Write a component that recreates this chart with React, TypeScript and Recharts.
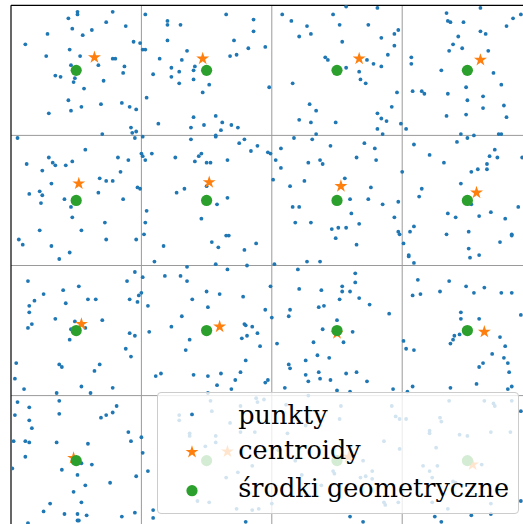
import { ScatterChart, Scatter, XAxis, YAxis, ReferenceLine, Legend } from "recharts";

type Pt = [number, number];

// points, grid cell units (x right, y down)
const pointsRow1: Pt[] = [
  [0.51, 0.05], [0.51, 0.07], [0.78, 0.05], [0.44, 0.10], [0.73, 0.13], [0.47, 0.18], [0.88, 0.16], [0.62, 0.19], [0.55, 0.23], [0.28, 0.22],
  [0.11, 0.30], [0.94, 0.28], [0.99, 0.29], [0.45, 0.34], [0.27, 0.39], [0.53, 0.39], [0.78, 0.41], [0.80, 0.41], [0.46, 0.46], [0.67, 0.46],
  [0.87, 0.47], [0.34, 0.54], [0.38, 0.55], [0.49, 0.56], [0.48, 0.59], [0.86, 0.52], [0.71, 0.58], [0.56, 0.64], [0.44, 0.73], [0.69, 0.76],
  [0.85, 0.75], [0.91, 0.78], [0.96, 0.80], [0.54, 0.78], [0.46, 0.81], [0.29, 0.83], [0.92, 0.94], [0.93, 0.98], [0.96, 0.97], [0.70, 0.99],
  [1.03, 0.07], [1.20, 0.12], [1.20, 0.15], [1.30, 0.15], [1.65, 0.07], [1.86, 0.11], [1.86, 0.20], [1.20, 0.27], [1.71, 0.27], [1.82, 0.33],
  [1.01, 0.34], [1.03, 0.34], [1.35, 0.35], [1.68, 0.39], [1.73, 0.38], [1.14, 0.41], [1.31, 0.42], [1.23, 0.48], [1.41, 0.47], [1.40, 0.50],
  [1.29, 0.51], [1.09, 0.53], [1.23, 0.55], [1.40, 0.57], [1.29, 0.60], [1.52, 0.61], [1.47, 0.67], [1.04, 0.71], [1.40, 0.86], [1.57, 0.85],
  [1.62, 0.90], [1.69, 0.92], [1.74, 0.94], [1.13, 0.91], [1.38, 0.94], [1.48, 0.92], [1.61, 0.96], [1.57, 1.00], [1.95, 0.32], [1.98, 0.63],
  [2.08, 0.07], [2.15, 0.12], [2.27, 0.16], [2.21, 0.24], [2.30, 0.22], [2.47, 0.07], [2.52, 0.15], [2.57, 0.01], [2.81, 0.02], [2.74, 0.15],
  [2.54, 0.28], [2.84, 0.25], [2.94, 0.22], [2.97, 0.19], [2.94, 0.31], [2.89, 0.38], [2.41, 0.40], [2.43, 0.42], [2.73, 0.42], [2.78, 0.45],
  [2.84, 0.47], [2.57, 0.48], [2.67, 0.51], [2.68, 0.57], [2.72, 0.60], [2.16, 0.60], [2.96, 0.67], [2.29, 0.76], [2.34, 0.81], [2.92, 0.78],
  [2.81, 0.83], [2.84, 0.87], [2.88, 0.89], [2.21, 0.88], [2.30, 0.90], [2.49, 0.90], [2.81, 0.95], [2.85, 0.99], [2.34, 0.99], [2.99, 0.91],
  [3.03, 0.95], [3.07, 0.40], [3.07, 0.45], [3.34, 0.06], [3.35, 0.12], [3.37, 0.13], [3.47, 0.13], [3.60, 0.02], [3.80, 0.16], [3.85, 0.10],
  [3.91, 0.07], [3.43, 0.24], [3.39, 0.30], [3.36, 0.35], [3.46, 0.33], [3.60, 0.20], [3.64, 0.22], [3.66, 0.35], [3.30, 0.50], [3.70, 0.52],
  [3.08, 0.66], [3.15, 0.66], [3.17, 0.68], [3.35, 0.68], [3.49, 0.63], [3.50, 0.73], [3.62, 0.70], [3.76, 0.61], [3.78, 0.77], [3.62, 0.79],
  [3.34, 0.85], [3.49, 0.84], [3.80, 0.86], [3.45, 0.99], [3.55, 1.00], [3.74, 0.99], [3.76, 0.99],
];

const pointsRow2: Pt[] = [
  [0.05, 1.02], [0.95, 1.02], [0.57, 1.11], [0.29, 1.17], [0.32, 1.21], [0.34, 1.23], [0.12, 1.22], [0.24, 1.27], [0.42, 1.23], [0.47, 1.20],
  [0.82, 1.17], [0.90, 1.19], [0.84, 1.28], [0.68, 1.33], [0.73, 1.35], [0.78, 1.35], [0.31, 1.37], [0.14, 1.45], [0.22, 1.43], [0.24, 1.46],
  [0.23, 1.52], [0.41, 1.49], [0.46, 1.55], [0.67, 1.44], [0.86, 1.49], [0.97, 1.40], [0.99, 1.41], [0.47, 1.63], [0.72, 1.67], [0.22, 1.73],
  [0.54, 1.73], [0.06, 1.80], [0.09, 1.84], [0.31, 1.85], [0.73, 1.80], [0.96, 1.80], [0.45, 1.90], [0.37, 1.95],
  [1.01, 1.01], [1.00, 1.14], [1.01, 1.16], [1.03, 1.19], [1.08, 1.14], [1.26, 1.17], [1.38, 1.03], [1.57, 1.01], [1.41, 1.20], [1.44, 1.16],
  [1.46, 1.14], [1.50, 1.21], [1.53, 1.21], [1.66, 1.19], [1.75, 1.06], [1.79, 1.03], [1.89, 1.08], [1.84, 1.12], [1.33, 1.41], [1.27, 1.44],
  [1.50, 1.39], [1.58, 1.53], [1.66, 1.48], [1.04, 1.58], [1.03, 1.67], [1.02, 1.76], [1.46, 1.64], [1.17, 1.85], [1.54, 1.82], [1.59, 1.86],
  [1.65, 1.77], [1.67, 1.77], [1.79, 1.88], [1.88, 1.83], [1.10, 1.97], [1.35, 2.01], [1.57, 1.99], [1.81, 2.00], [1.97, 1.13], [1.99, 1.14],
  [2.01, 1.34], [2.03, 1.19], [2.07, 1.10], [2.07, 1.25], [2.17, 1.02], [2.31, 1.03], [2.45, 1.08], [2.71, 1.06], [2.79, 1.10], [2.80, 1.19],
  [2.65, 1.17], [2.28, 1.21], [2.37, 1.19], [2.39, 1.22], [2.25, 1.35], [2.14, 1.39], [2.56, 1.33], [2.76, 1.40], [2.60, 1.49], [2.74, 1.49],
  [2.85, 1.53], [2.97, 1.51], [2.16, 1.55], [2.21, 1.55], [2.61, 1.60], [2.94, 1.63], [2.18, 1.67], [2.30, 1.67], [2.67, 1.68], [2.46, 1.72],
  [2.51, 1.71], [2.57, 1.71], [2.49, 1.79], [2.65, 1.84], [2.97, 1.74], [2.98, 1.76], [2.02, 1.99], [2.27, 1.97], [2.37, 1.97],
  [3.00, 1.28], [3.01, 1.83], [3.05, 1.92], [3.05, 1.93], [3.09, 1.98], [3.09, 1.07], [3.21, 1.15], [3.32, 1.21], [3.42, 1.05], [3.50, 1.02],
  [3.71, 1.11], [3.67, 1.16], [3.73, 1.17], [3.65, 1.22], [3.65, 1.26], [3.58, 1.26], [3.53, 1.28], [3.92, 1.17], [3.45, 1.37], [3.15, 1.41],
  [3.13, 1.47], [3.53, 1.53], [3.35, 1.60], [3.41, 1.63], [3.59, 1.62], [3.68, 1.59], [3.79, 1.64], [3.89, 1.55], [3.06, 1.74], [3.09, 1.70],
  [3.34, 1.76], [3.51, 1.74], [3.75, 1.82], [3.84, 1.76], [3.84, 1.77], [3.51, 1.87], [3.52, 1.94], [3.59, 1.92],
];

const pointsRow3: Pt[] = [
  [0.13, 2.12], [0.40, 2.19], [0.52, 2.16], [0.25, 2.22], [0.18, 2.27], [0.14, 2.31], [0.14, 2.36], [0.42, 2.29], [0.59, 2.26], [0.65, 2.26],
  [0.89, 2.12], [0.95, 2.05], [0.91, 2.26], [0.97, 2.28], [0.98, 2.23], [1.00, 2.21], [0.34, 2.41], [0.16, 2.45], [0.13, 2.48], [0.49, 2.43],
  [0.57, 2.48], [0.46, 2.49], [0.45, 2.57], [0.70, 2.42], [0.91, 2.52], [0.95, 2.54], [0.88, 2.64], [0.92, 2.70], [0.04, 2.75], [0.37, 2.76],
  [0.39, 2.78], [0.68, 2.76], [0.64, 2.81], [0.03, 2.87], [0.10, 2.95], [0.35, 2.98], [0.54, 2.93], [0.61, 2.98], [0.78, 2.94],
  [1.01, 2.09], [1.66, 2.03], [1.18, 2.08], [1.30, 2.08], [1.35, 2.12], [1.50, 2.20], [1.60, 2.22], [1.78, 2.24], [1.39, 2.26], [1.51, 2.32],
  [1.05, 2.31], [1.31, 2.39], [1.23, 2.47], [1.06, 2.51], [1.79, 2.45], [1.80, 2.46], [1.85, 2.47], [1.89, 2.52], [1.81, 2.54], [1.77, 2.56],
  [1.91, 2.62], [1.37, 2.57], [1.34, 2.65], [1.80, 2.73], [1.76, 2.82], [1.61, 2.83], [1.72, 2.88], [1.40, 2.84], [1.51, 2.85], [1.11, 2.85],
  [1.15, 2.83], [1.58, 2.92], [1.69, 2.95], [1.51, 2.98], [1.95, 2.34], [1.99, 2.16], [1.95, 2.90], [1.97, 2.88],
  [2.00, 2.40], [2.20, 2.03], [2.21, 2.18], [2.14, 2.34], [2.13, 2.39], [2.38, 2.19], [2.54, 2.16], [2.54, 2.20], [2.60, 2.20], [2.64, 2.06],
  [2.64, 2.13], [2.67, 2.25], [2.52, 2.26], [2.40, 2.31], [2.36, 2.32], [2.75, 2.30], [2.90, 2.37], [2.50, 2.42], [2.39, 2.49], [2.62, 2.51],
  [2.55, 2.59], [2.32, 2.59], [2.04, 2.60], [2.35, 2.69], [2.44, 2.71], [2.26, 2.73], [2.13, 2.76], [2.14, 2.79], [2.26, 2.84], [2.28, 2.89],
  [2.36, 2.82], [2.37, 2.87], [2.45, 2.88], [2.57, 2.83], [2.65, 2.82], [2.73, 2.89], [2.10, 2.94], [2.50, 2.96], [2.60, 2.97], [2.93, 2.95],
  [2.28, 3.00],
  [3.01, 2.58], [3.03, 2.64], [3.09, 2.65], [3.12, 2.11], [3.08, 2.23], [3.14, 2.22], [3.29, 2.20], [3.36, 2.12], [3.49, 2.16], [3.55, 2.21],
  [3.63, 2.17], [3.76, 2.21], [3.84, 2.21], [3.91, 2.38], [3.45, 2.36], [3.45, 2.41], [3.59, 2.41], [3.44, 2.53], [3.40, 2.54], [3.39, 2.57],
  [3.37, 2.60], [3.75, 2.55], [3.79, 2.62], [3.69, 2.68], [3.78, 2.71], [3.81, 2.75], [3.62, 2.75], [3.59, 2.78], [3.82, 2.82], [3.57, 2.91],
  [3.84, 2.93], [3.81, 2.95], [3.37, 2.94], [3.08, 2.93], [3.04, 2.97],
];

const pointsRow4: Pt[] = [
  [0.05, 3.05], [0.14, 3.09], [0.37, 3.04], [0.03, 3.15], [0.14, 3.19], [0.16, 3.25], [0.37, 3.14], [0.69, 3.17], [0.73, 3.15], [0.78, 3.13],
  [0.81, 3.08], [0.90, 3.28], [0.92, 3.35], [0.02, 3.35], [0.11, 3.35], [0.14, 3.36], [0.35, 3.36], [0.59, 3.37], [0.11, 3.47], [0.01, 3.56],
  [0.39, 3.57], [0.51, 3.61], [0.54, 3.52], [0.62, 3.53], [0.96, 3.62], [0.57, 3.69], [0.76, 3.67], [0.48, 3.74], [0.30, 3.83], [0.54, 3.82],
  [0.25, 3.89], [0.41, 3.91], [0.51, 3.91], [0.58, 3.92], [0.51, 3.96], [0.52, 3.96], [0.85, 3.93], [0.95, 3.90], [0.13, 3.98],
  [1.00, 3.32], [1.01, 3.44], [1.05, 3.58], [1.09, 3.88], [1.09, 3.94], [1.80, 3.97], [1.53, 3.04], [1.29, 3.15], [1.29, 3.19], [1.54, 3.12],
  [1.68, 3.21], [1.76, 3.08], [1.88, 3.02], [1.89, 3.05], [1.94, 3.03], [1.76, 3.28], [1.87, 3.28], [1.37, 3.29], [1.37, 3.31], [1.57, 3.31],
  [1.57, 3.36], [1.49, 3.39], [1.65, 3.63], [1.74, 3.59], [1.43, 3.81], [1.52, 3.82], [1.73, 3.87], [1.85, 3.88], [1.90, 3.87], [1.85, 3.54],
  [2.00, 3.83], [2.53, 3.08], [2.52, 3.18], [2.92, 3.08], [2.95, 3.16], [2.98, 3.18], [2.86, 3.35], [2.98, 3.41], [2.70, 3.50], [2.77, 3.58],
  [2.68, 3.63], [2.72, 3.62], [2.77, 3.64], [2.86, 3.82], [2.87, 3.84], [2.97, 3.82], [2.26, 3.23], [2.12, 3.29], [2.18, 3.50], [2.23, 3.61],
  [2.38, 3.69], [2.47, 3.58], [2.48, 3.60], [2.11, 3.07], [2.05, 3.42], [2.60, 3.93], [2.70, 3.97],
  [3.03, 3.18], [3.21, 3.27], [3.21, 3.29], [3.29, 3.17], [3.30, 3.20], [3.36, 3.04], [3.63, 3.04], [3.70, 3.06], [3.71, 3.08], [3.91, 3.12],
  [3.44, 3.30], [3.50, 3.31], [3.68, 3.28], [3.83, 3.28], [3.26, 3.40], [3.16, 3.54], [3.21, 3.58], [3.27, 3.54], [3.23, 3.63], [3.39, 3.66],
  [3.41, 3.67], [3.61, 3.53], [3.35, 3.87], [3.23, 3.82], [3.68, 3.83], [3.91, 3.81], [3.84, 3.04], [3.25, 3.93], [3.30, 3.97], [3.53, 3.92],
  [3.68, 3.91],
];

const centroids: Pt[] = [
  [0.64, 0.40], [1.47, 0.41], [2.67, 0.41], [3.60, 0.42],
  [0.52, 1.37], [1.52, 1.36], [2.53, 1.39], [3.57, 1.44],
  [0.54, 2.45], [1.60, 2.47], [2.50, 2.52], [3.63, 2.51],
  [0.48, 3.48], [1.66, 3.43], [2.59, 3.47], [3.54, 3.53],
];

const centers: Pt[] = [
  [0.5, 0.5], [1.5, 0.5], [2.5, 0.5], [3.5, 0.5],
  [0.5, 1.5], [1.5, 1.5], [2.5, 1.5], [3.5, 1.5],
  [0.5, 2.5], [1.5, 2.5], [2.5, 2.5], [3.5, 2.5],
  [0.5, 3.5], [1.5, 3.5], [2.5, 3.5], [3.5, 3.5],
];

const gridLines = [1, 2, 3];
const legendLabels = ["punkty", "centroidy", "środki geometryczne"];

const BLUE = "#1f77b4";
const ORANGE = "#ff7f0e";
const GREEN = "#2ca02c";
const GRID = "#9a9a9a";

const toXY = (arr: Pt[]) => arr.map(([x, y]) => ({ x, y }));

const starPath = (cx: number, cy: number, R: number) => {
  const r = R * 0.382;
  let d = "";
  for (let i = 0; i < 10; i++) {
    const rad = i % 2 === 0 ? R : r;
    const a = -Math.PI / 2 + (i * Math.PI) / 5;
    d += `${i ? "L" : "M"}${cx + rad * Math.cos(a)},${cy + rad * Math.sin(a)}`;
  }
  return d + "Z";
};

const Dot = (props: any) => <circle cx={props.cx} cy={props.cy} r={1.9} fill={BLUE} />;
const Star = (props: any) => <path d={starPath(props.cx, props.cy, 6.8)} fill={ORANGE} />;
const Center = (props: any) => <circle cx={props.cx} cy={props.cy} r={5.6} fill={GREEN} />;

function LegendBox() {
  const markerY = [21.4, 59, 97.7];
  const textTop = [10.2, 44.9, 83.2];
  return (
    <div
      style={{
        position: "relative", width: "100%", height: "100%", boxSizing: "border-box",
        background: "rgba(255,255,255,0.8)", border: "1px solid #cccccc", borderRadius: 4,
        fontFamily: '"DejaVu Serif", "DejaVu Sans", sans-serif', fontSize: 25.5, lineHeight: "24px", color: "#000",
      }}
    >
      <svg width={360} height={120} style={{ position: "absolute", left: 0, top: 0 }}>
        <circle cx={34} cy={markerY[0]} r={1.9} fill={BLUE} />
        <path d={starPath(34, markerY[1], 6.8)} fill={ORANGE} />
        <circle cx={34} cy={markerY[2]} r={5.6} fill={GREEN} />
      </svg>
      {legendLabels.map((label, i) => (
        <div key={label} style={{ position: "absolute", left: 80.6, top: textTop[i], whiteSpace: "nowrap" }}>
          {label}
        </div>
      ))}
    </div>
  );
}

export default function App() {
  const points = toXY([...pointsRow1, ...pointsRow2, ...pointsRow3, ...pointsRow4]);
  return (
    <div style={{ position: "fixed", left: 0, top: 0, width: 523, height: 524, overflow: "hidden", background: "#fff" }}>
      <ScatterChart width={545} height={545} margin={{ top: 5.3, left: 11, right: 12.4, bottom: 19.3 }}>
        <XAxis type="number" dataKey="x" domain={[0, 4]} hide allowDataOverflow />
        <YAxis type="number" dataKey="y" domain={[0, 4]} reversed hide allowDataOverflow />
        {gridLines.map((v) => (
          <ReferenceLine key={`vx${v}`} x={v} stroke={GRID} strokeWidth={1} />
        ))}
        {gridLines.map((v) => (
          <ReferenceLine key={`hy${v}`} y={v} stroke={GRID} strokeWidth={1} />
        ))}
        <ReferenceLine x={0} stroke="#000" strokeWidth={1.2} />
        <ReferenceLine y={0} stroke="#000" strokeWidth={1.2} />
        <Scatter name="punkty" data={points} shape={Dot} isAnimationActive={false} />
        <Scatter name="centroidy" data={toXY(centroids)} shape={Star} isAnimationActive={false} />
        <Scatter name="środki geometryczne" data={toXY(centers)} shape={Center} isAnimationActive={false} />
        <Legend
          layout="horizontal" verticalAlign="middle" align="center"
          content={() => <LegendBox />}
          wrapperStyle={{ left: 156.7, top: 392.3, width: 362.3, height: 121.7 }}
        />
      </ScatterChart>
    </div>
  );
}
